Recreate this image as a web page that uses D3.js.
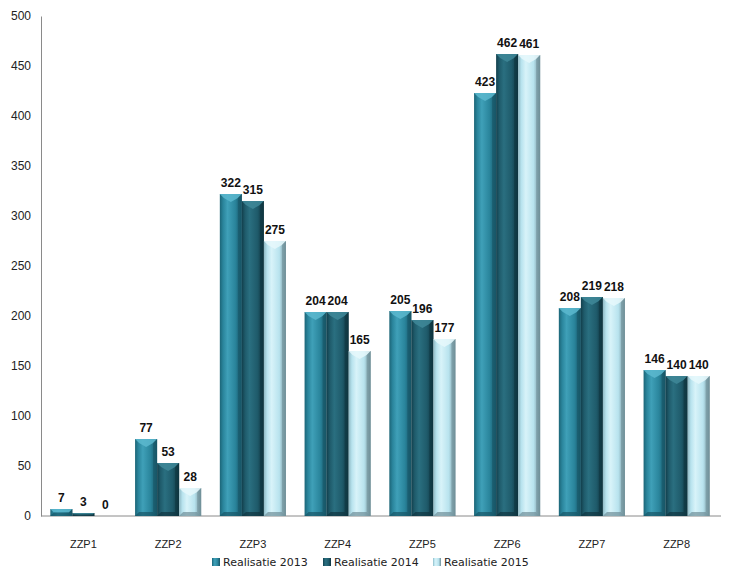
<!DOCTYPE html>
<html>
<head>
<meta charset="utf-8">
<script src="https://cdn.jsdelivr.net/npm/d3@7"></script>
<style>
  body { margin: 0; background: #fff; }
  svg { display: block; font-family: "DejaVu Sans", Verdana, sans-serif; }
</style>
</head>
<body>
<svg id="chart" width="737" height="582"></svg>
<script>
var categories = ["ZZP1", "ZZP2", "ZZP3", "ZZP4", "ZZP5", "ZZP6", "ZZP7", "ZZP8"];
var seriesNames = ["Realisatie 2013", "Realisatie 2014", "Realisatie 2015"];
var real2013 = [7, 77, 322, 204, 205, 423, 208, 146];
var real2014 = [3, 53, 315, 204, 196, 462, 219, 140];
var real2015 = [0, 28, 275, 165, 177, 461, 218, 140];
var yTicks = [0, 50, 100, 150, 200, 250, 300, 350, 400, 450, 500];

var allSeries = [real2013, real2014, real2015];

// colour stops per series: left edge, highlight, body, right edge
var palette = [
  { edge: "#1c6577", hi: "#3fa0b8", body: "#2a859c", dark: "#175566", top: "#5cb9cf" },
  { edge: "#123f4c", hi: "#2a6f80", body: "#1f5b6b", dark: "#0f3540", top: "#3f8899" },
  { edge: "#8fb9c4", hi: "#d8f3f9", body: "#b8e3ee", dark: "#6f8f98", top: "#e6f8fc" }
];

var svg = d3.select("#chart"),
	margin = { left: 41, right: 18, top: 16, bottom: 66 },
	width = +svg.attr("width"),
	height = +svg.attr("height");

var x = d3.scaleBand()
	.domain(categories)
	.range([margin.left, width - margin.right])
	.paddingInner(0.22)
	.paddingOuter(0.11);

var xs = d3.scaleBand()
	.domain(d3.range(3))
	.range([0, x.bandwidth()]);

var y = d3.scaleLinear()
	.domain([0, 500])
	.range([height - margin.bottom, margin.top]);

var defs = svg.append("defs");
palette.forEach(function(p, i) {
	var g = defs.append("linearGradient")
		.attr("id", "grad" + i)
		.attr("x1", 0).attr("x2", 1).attr("y1", 0).attr("y2", 0);
	g.append("stop").attr("offset", "0%").attr("stop-color", p.edge);
	g.append("stop").attr("offset", "15%").attr("stop-color", p.body);
	g.append("stop").attr("offset", "35%").attr("stop-color", p.hi);
	g.append("stop").attr("offset", "70%").attr("stop-color", p.body);
	g.append("stop").attr("offset", "100%").attr("stop-color", p.dark);
});

// axes
var yAxis = svg.append("g")
	.attr("transform", "translate(" + margin.left + ",0)")
	.call(d3.axisLeft(y).tickValues(yTicks).tickSize(0).tickPadding(10));
yAxis.select(".domain").attr("stroke", "#8a8a8a");
yAxis.selectAll("text").attr("font-size", 12).attr("fill", "#222");

var xAxis = svg.append("g")
	.attr("transform", "translate(0," + y(0) + ")")
	.call(d3.axisBottom(x).tickSize(0).tickPadding(24));
xAxis.select(".domain").attr("stroke", "#8a8a8a")
	.attr("d", "M" + margin.left + ",0H" + (width - margin.right + 2));
xAxis.selectAll("text").attr("font-size", 11).attr("fill", "#222");

// bars
allSeries.forEach(function(vals, si) {
	var p = palette[si];
	var g = svg.append("g").attr("class", "series" + si);
	categories.forEach(function(c, ci) {
		var v = vals[ci];
		var bx = x(c) + xs(si), bw = xs.bandwidth();
		var by = y(v), bh = y(0) - y(v);
		if (bh > 0) {
			g.append("rect")
				.attr("x", bx).attr("y", by)
				.attr("width", bw).attr("height", bh)
				.attr("fill", "url(#grad" + si + ")");
			var b = Math.min(4, bh / 2), tip = Math.min(8, bh / 2);
			// top bevel
			g.append("path")
				.attr("d", "M" + bx + "," + by + "H" + (bx + bw) +
					"L" + (bx + bw - b) + "," + (by + b) +
					"L" + (bx + bw / 2) + "," + (by + tip) +
					"L" + (bx + b) + "," + (by + b) + "Z")
				.attr("fill", p.top).attr("opacity", 0.85);
			// right side bevel
			g.append("path")
				.attr("d", "M" + (bx + bw) + "," + by + "V" + (by + bh) +
					"L" + (bx + bw - b) + "," + (by + bh - b) +
					"V" + (by + b) + "Z")
				.attr("fill", p.dark).attr("opacity", 0.6);
			// bottom bevel
			g.append("path")
				.attr("d", "M" + bx + "," + (by + bh) + "H" + (bx + bw) +
					"L" + (bx + bw - b) + "," + (by + bh - b) +
					"H" + (bx + b) + "Z")
				.attr("fill", p.dark).attr("opacity", 0.7);
		}
		g.append("text")
			.attr("x", bx + bw / 2)
			.attr("y", by - 7)
			.attr("text-anchor", "middle")
			.attr("font-family", "'Liberation Sans', Arial, sans-serif")
			.attr("font-size", 12)
			.attr("font-weight", "bold")
			.attr("fill", "#111")
			.text(v);
	});
});

// legend
var legendX = [212, 323, 433];
var legend = svg.append("g");
seriesNames.forEach(function(name, i) {
	legend.append("rect")
		.attr("x", legendX[i]).attr("y", 558)
		.attr("width", 8).attr("height", 8)
		.attr("fill", "url(#grad" + i + ")");
	legend.append("text")
		.attr("x", legendX[i] + 11).attr("y", 566)
		.attr("font-size", 11).attr("fill", "#222")
		.text(name);
});
</script>
</body>
</html>
